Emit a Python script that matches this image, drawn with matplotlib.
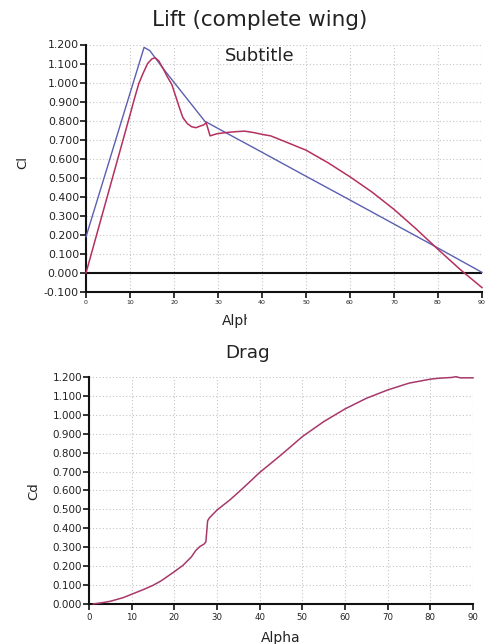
import matplotlib
matplotlib.use("Agg")
import matplotlib.pyplot as plt
from matplotlib.transforms import Bbox, TransformedBbox

# ---------------- data ----------------
alpha_cl_red = [0, 2, 4, 6, 8, 10, 11, 12, 13, 14, 15, 15.7, 16.5, 17.6, 18.5, 19.5,
                20.5, 21.2, 22, 23, 24, 25, 26, 26.8, 27.3, 28.2, 29.7, 32, 34, 36,
                38, 40, 42, 45, 50, 55, 60, 65, 70, 75, 80, 85, 90]
cl_red = [0.0, 0.166, 0.332, 0.498, 0.664, 0.83, 0.915, 0.995, 1.05, 1.1, 1.125, 1.13,
          1.115, 1.07, 1.03, 0.99, 0.92, 0.87, 0.817, 0.785, 0.768, 0.763, 0.772, 0.778,
          0.79, 0.72, 0.731, 0.738, 0.742, 0.745, 0.738, 0.728, 0.72, 0.692, 0.645,
          0.579, 0.505, 0.425, 0.334, 0.232, 0.124, 0.019, -0.077]

alpha_cl_blue = [0, 13.2, 14.5, 18, 27, 30, 40, 50, 60, 70, 80, 90]
cl_blue = [0.19, 1.185, 1.168, 1.06, 0.797, 0.759, 0.634, 0.508, 0.383, 0.257, 0.131, 0.003]

alpha_cd = [1, 3, 5, 8, 10, 13, 15, 17, 20, 22, 24, 25, 26, 27, 27.4, 27.8, 28.2,
            30, 33, 35, 37.5, 40, 45, 50, 55, 60, 65, 70, 75, 80, 82, 85, 86, 87, 90]
cd = [0.002, 0.008, 0.016, 0.035, 0.053, 0.080, 0.100, 0.125, 0.172, 0.205, 0.25,
      0.283, 0.305, 0.318, 0.33, 0.44, 0.455, 0.497, 0.55, 0.59, 0.642, 0.695, 0.787,
      0.884, 0.963, 1.03, 1.086, 1.13, 1.166, 1.187, 1.192, 1.196, 1.2, 1.194, 1.194]

x_ticks = [0, 10, 20, 30, 40, 50, 60, 70, 80, 90]
y_ticks = [-0.1, 0.0, 0.1, 0.2, 0.3, 0.4, 0.5, 0.6, 0.7, 0.8, 0.9, 1.0, 1.1, 1.2]
y_ticks_cd = [0.0, 0.1, 0.2, 0.3, 0.4, 0.5, 0.6, 0.7, 0.8, 0.9, 1.0, 1.1, 1.2]

BLUE = '#5b5fb0'
RED = '#b5305f'
DRAG = '#a8386a'
TXT = '#222222'
GRID = '#c4c4c4'

W, H = 493, 644
fig = plt.figure(figsize=(W / 100, H / 100), dpi=100)
fig.patch.set_facecolor('white')


def style(ax, ylab_size, xlab_size, ylim, yt):
    ax.set_xlim(0, 90)
    ax.set_ylim(*ylim)
    ax.set_xticks(x_ticks)
    ax.set_yticks(yt)
    ax.set_yticklabels(['%.3f' % v for v in yt])
    ax.grid(True, color=GRID, linestyle=(0, (1, 2)), linewidth=0.8)
    ax.set_axisbelow(True)
    for s in ('top', 'right'):
        ax.spines[s].set_visible(False)
    for s in ('left', 'bottom'):
        ax.spines[s].set_color('#111111')
        ax.spines[s].set_linewidth(1.5)
    ax.tick_params(axis='y', labelsize=ylab_size, length=4, width=1.2,
                   color='#111111', labelcolor=TXT, pad=1)
    ax.tick_params(axis='x', labelsize=xlab_size, length=4, width=1.2,
                   color='#111111', labelcolor=TXT, pad=2)


# ---------------- Lift ----------------
ax1 = fig.add_axes([86 / W, 1 - 292 / H, 396 / W, (292 - 44.5) / H])
style(ax1, 7.8, 4.5, (-0.1, 1.2), y_ticks)
ax1.axhline(0, color='#111111', lw=1.5, zorder=2)
ax1.plot(alpha_cl_blue, cl_blue, color=BLUE, lw=1.0, zorder=3, clip_on=False)
ax1.plot(alpha_cl_red, cl_red, color=RED, lw=1.1, zorder=4, clip_on=False)

fig.text(260 / W, 1 - 26 / H, 'Lift (complete wing)', ha='center', va='baseline',
         fontsize=15.5, color=TXT)
fig.text(260 / W, 1 - 61 / H, 'Subtitle', ha='center', va='baseline',
         fontsize=13, color=TXT)
fig.text(23 / W, 1 - 163 / H, 'Cl', ha='center', va='center', rotation=90,
         fontsize=9.5, color=TXT)
t = fig.text(222 / W, 1 - 325 / H, 'Alpha', ha='left', va='baseline',
             fontsize=10, color=TXT)
t.set_clip_box(TransformedBbox(Bbox.from_extents(0, 0, 247.5 / W, 1), fig.transFigure))
t.set_clip_on(True)

# ---------------- Drag ----------------
ax2 = fig.add_axes([89 / W, 1 - 604.3 / H, 384 / W, (604.3 - 376.7) / H])
style(ax2, 7.5, 6.2, (0.0, 1.2), y_ticks_cd)
ax2.plot(alpha_cd, cd, color=DRAG, lw=1.1, zorder=4, clip_on=False)

fig.text(248 / W, 1 - 358.3 / H, 'Drag', ha='center', va='baseline',
         fontsize=13.2, color=TXT)
fig.text(34 / W, 1 - 491 / H, 'Cd', ha='center', va='center', rotation=90,
         fontsize=9.5, color=TXT)
fig.text(281 / W, 1 - 641.7 / H, 'Alpha', ha='center', va='baseline',
         fontsize=10, color=TXT)

fig.savefig('out.png', dpi=100)
